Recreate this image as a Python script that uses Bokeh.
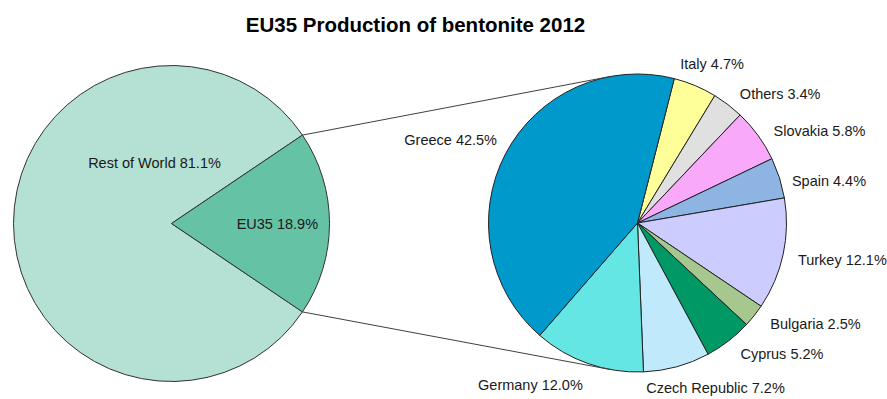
import math
from bokeh.plotting import figure
from bokeh.models import Range1d, ColumnDataSource
from bokeh.core.properties import value
from bokeh.embed import file_html
from bokeh.resources import INLINE

# ---------------- data ----------------
world_labels = ["Rest of World", "EU35"]
world_values = [81.1, 18.9]
world_colors = ["#B4E1D3", "#66C2A5"]

eu_labels = ["Italy", "Others", "Slovakia", "Spain", "Turkey", "Bulgaria",
             "Cyprus", "Czech Republic", "Germany", "Greece"]
eu_values = [4.7, 3.4, 5.8, 4.4, 12.1, 2.5, 5.2, 7.2, 12.0, 42.5]
eu_colors = ["#FFFF99", "#E0E0E0", "#F9A9F9", "#8EB4E3", "#CCCCFF", "#A6C88F",
             "#009966", "#C0EAFC", "#63E6E4", "#0099CC"]

title_text = "EU35 Production of bentonite 2012"

# ---------------- layout ----------------
W, H = 887, 399
C1 = (171.0, 176.0)   # left pie centre (data coords, y up)
R1 = 158.0
C2 = (637.0, 176.5)   # right pie centre
R2 = 149.0
START_CW = 14.3       # first slice of right pie starts this many deg clockwise from top
LAB_R = 162.0
FONT = "Liberation Sans"
FS = "14.5px"

# per label nudges (pixels) for the outer labels of the right pie
nudge = {
    "Italy": (-20, 10), "Others": (4, 0), "Slovakia": (5, -3), "Spain": (0, -7),
    "Turkey": (2, -3), "Bulgaria": (6, 0), "Cyprus": (4, -3),
    "Czech Republic": (-34, -9), "Germany": (-1, -9), "Greece": (3, 8),
}

p = figure(width=W, height=H, x_range=Range1d(0, W), y_range=Range1d(0, H),
           output_backend="svg", toolbar_location=None,
           x_axis_location=None, y_axis_location=None, min_border=0)
p.grid.visible = False
p.outline_line_color = None
p.background_fill_color = "white"
p.border_fill_color = "white"

# ---------- left pie ----------
tot1 = sum(world_values)
half = math.pi * world_values[1] / tot1
w_start = [half, -half]
w_end = [2 * math.pi - half, half]
src1 = ColumnDataSource(dict(start=w_start, end=w_end, color=world_colors))
p.wedge(x=C1[0], y=C1[1], radius=R1, start_angle="start", end_angle="end",
        direction="anticlock", fill_color="color", line_color="#333333",
        line_width=1, source=src1)

# ---------- right pie ----------
tot2 = sum(eu_values)
a0 = math.radians(90 - START_CW)
starts, ends, mids = [], [], []
cum = 0.0
for v in eu_values:
    c0 = cum / tot2
    cum += v
    c1 = cum / tot2
    ends.append(a0 - c0 * 2 * math.pi)
    starts.append(a0 - c1 * 2 * math.pi)
    mids.append(a0 - (c0 + c1) * math.pi)
src2 = ColumnDataSource(dict(start=starts, end=ends, color=eu_colors))
p.wedge(x=C2[0], y=C2[1], radius=R2, start_angle="start", end_angle="end",
        direction="anticlock", fill_color="color", line_color="#222222",
        line_width=1, source=src2)

# ---------- connector lines (tangent to right pie) ----------
def tangent(P, upper):
    dx, dy = P[0] - C2[0], P[1] - C2[1]
    d = math.hypot(dx, dy)
    phi = math.atan2(dy, dx)
    alpha = math.acos(R2 / d)
    ang = phi - alpha if upper else phi + alpha
    return (C2[0] + R2 * math.cos(ang), C2[1] + R2 * math.sin(ang))

Ptop = (C1[0] + R1 * math.cos(half), C1[1] + R1 * math.sin(half))
Pbot = (C1[0] + R1 * math.cos(-half), C1[1] + R1 * math.sin(-half))
Ttop = tangent(Ptop, True)
Tbot = tangent(Pbot, False)
p.segment(x0=[Ptop[0], Pbot[0]], y0=[Ptop[1], Pbot[1]],
          x1=[Ttop[0], Tbot[0]], y1=[Ttop[1], Tbot[1]],
          line_color="#404040", line_width=1)

# ---------- labels ----------
def fmt(name, v):
    return f"{name} {v:.1f}%"

# left pie labels
lx = [C1[0] - 17, C1[0] + 0.67 * R1]
ly = [C1[1] + 61, C1[1]]
p.text(x=lx, y=ly, text=[fmt(n, v) for n, v in zip(world_labels, world_values)],
       text_align="center", text_baseline="middle", text_color="#1a1a1a",
       text_font=value(FONT), text_font_size=FS)

# right pie labels
rx, ry, rt, ra = [], [], [], []
for n, v, m in zip(eu_labels, eu_values, mids):
    x = C2[0] + LAB_R * math.cos(m)
    y = C2[1] + LAB_R * math.sin(m)
    nx, ny = nudge.get(n, (0, 0))
    rx.append(x + nx)
    ry.append(y + ny)
    rt.append(fmt(n, v))
    ra.append("left" if math.cos(m) >= 0 else "right")
src3 = ColumnDataSource(dict(x=rx, y=ry, text=rt, align=ra))
p.text(x="x", y="y", text="text", text_align="align", text_baseline="middle",
       text_color="#1a1a1a", text_font=value(FONT), text_font_size=FS, source=src3)

# ---------- title ----------
p.text(x=[415], y=[H - 24], text=[title_text], text_align="center",
       text_baseline="alphabetic", text_color="#000000", text_font=value(FONT),
       text_font_size="20.5px", text_font_style="bold")

open("out.html", "w").write(file_html(p, INLINE))
